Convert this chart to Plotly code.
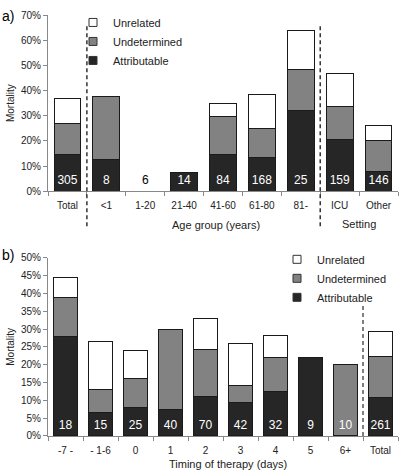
import plotly.graph_objects as go
from plotly.subplots import make_subplots

# ---- Data (a) ----
cats_a = ["Total", "<1", "1-20", "21-40", "41-60", "61-80", "81-", "ICU", "Other"]
n_a = ["305", "8", "6", "14", "84", "168", "25", "159", "146"]
attrib_a = [14.6, 12.5, 0, 7.5, 14.6, 13.2, 32.2, 20.4, 7.7]
undet_a = [12.5, 25.0, 0, 0, 15.1, 11.7, 16.0, 13.2, 12.3]
unrel_a = [9.7, 0, 0, 0, 5.2, 13.5, 15.8, 13.2, 6.2]

# ---- Data (b) ----
cats_b = ["-7 -", "- 1-6", "0", "1", "2", "3", "4", "5", "6+", "Total"]
n_b = ["18", "15", "25", "40", "70", "42", "32", "9", "10", "261"]
attrib_b = [27.8, 6.7, 8.0, 7.5, 11.1, 9.3, 12.5, 22.0, 0, 10.9]
undet_b = [11.1, 6.4, 8.0, 22.5, 13.2, 4.8, 9.4, 0, 20.0, 11.5]
unrel_b = [5.5, 13.4, 8.0, 0, 8.6, 11.9, 6.3, 0, 0, 6.9]

series_names = ["Attributable", "Undetermined", "Unrelated"]

DARK = "#262626"
GRAY = "#828282"
EDGE = "#1a1a1a"
FONT = "Liberation Sans, Arial, sans-serif"
W, H = 400, 476

def py(px):
    return (H - px) / H

fig = make_subplots(rows=2, cols=1)
colors = {"Attributable": DARK, "Undetermined": GRAY, "Unrelated": "white"}

def add_stack(xs, att, und, unr, row, legend):
    for name, vals in zip(series_names, [att, und, unr]):
        fig.add_trace(go.Bar(x=xs, y=vals, name=name, showlegend=False,
                             marker=dict(color=colors[name], line=dict(color=EDGE, width=1)),
                             width=0.69, hoverinfo="skip"), row=row, col=1)
    # legend entries with small square symbols
    for name in series_names:
        fig.add_trace(go.Scatter(x=[None], y=[None], mode="markers", name=name, legend=legend,
                                 marker=dict(symbol="square", size=8, color=colors[name],
                                             line=dict(color="#333", width=1))), row=row, col=1)

xa = list(range(len(cats_a)))
xb = list(range(len(cats_b)))
add_stack(xa, attrib_a, undet_a, unrel_a, 1, "legend")
add_stack(xb, attrib_b, undet_b, unrel_b, 2, "legend2")

# count labels
col_a = ["black" if (a + u + r) == 0 else "white" for a, u, r in zip(attrib_a, undet_a, unrel_a)]
fig.add_trace(go.Scatter(x=xa, y=[3.9] * len(xa), text=n_a, mode="text", showlegend=False,
                         textfont=dict(color=col_a, size=12, family=FONT), hoverinfo="skip"), row=1, col=1)
fig.add_trace(go.Scatter(x=xb, y=[2.7] * len(xb), text=n_b, mode="text", showlegend=False,
                         textfont=dict(color="white", size=12, family=FONT), hoverinfo="skip"), row=2, col=1)

fig.update_layout(
    barmode="stack", width=W, height=H, margin=dict(l=0, r=0, t=0, b=0),
    plot_bgcolor="white", paper_bgcolor="white",
    font=dict(family=FONT, size=10, color="#222"),
    legend=dict(x=73 / W, y=py(2), xanchor="left", yanchor="top", traceorder="reversed",
                font=dict(size=11, color="#222"), itemwidth=30, bgcolor="rgba(0,0,0,0)", tracegroupgap=0),
    legend2=dict(x=277 / W, y=py(245), xanchor="left", yanchor="top", traceorder="reversed",
                 font=dict(size=11, color="#222"), itemwidth=30, bgcolor="rgba(0,0,0,0)", tracegroupgap=0),
    bargap=0.31,
)

axis_common = dict(showline=True, linecolor="#888", linewidth=1, showgrid=False, zeroline=False,
                   ticks="", tickfont=dict(size=10, color="#222"), ticklabelstandoff=5)
fig.update_xaxes(domain=[48 / W, 398 / W], **axis_common)
fig.update_xaxes(row=1, col=1, range=[-0.5, 8.5], tickvals=xa, ticktext=cats_a,
                 minor=dict(tickvals=[i + 0.5 for i in range(-1, 9)], ticks="outside", ticklen=4, tickcolor="#888"))
fig.update_xaxes(row=2, col=1, range=[-0.5, 9.5], tickvals=xb, ticktext=cats_b,
                 minor=dict(tickvals=[i + 0.5 for i in range(-1, 10)], ticks="outside", ticklen=4, tickcolor="#888"))
fig.update_yaxes(row=1, col=1, domain=[py(190), py(9.3)], range=[0, 70], dtick=10, ticksuffix="%",
                 ticks="outside", ticklen=4, tickcolor="#888", showline=True, linecolor="#888",
                 showgrid=False, zeroline=False, tickfont=dict(size=10, color="#222"),
                 title=dict(text="Mortality", font=dict(size=10, color="#222"), standoff=4))
fig.update_yaxes(row=2, col=1, domain=[py(441), py(258.3)], range=[0, 50], dtick=5, ticksuffix="%",
                 ticks="outside", ticklen=4, tickcolor="#888", showline=True, linecolor="#888",
                 showgrid=False, zeroline=False, tickfont=dict(size=10, color="#222"),
                 title=dict(text="Mortality", font=dict(size=10, color="#222"), standoff=4))

# dashed separators
for xv in [0.5, 6.5]:
    fig.add_shape(type="line", xref="x", yref="paper", x0=xv, x1=xv, y0=py(226), y1=py(20),
                  line=dict(color="#333", width=1.5, dash="4px,3px"))
fig.add_shape(type="line", xref="x2", yref="y2", x0=8.5, x1=8.5, y0=0, y1=37,
              line=dict(color="#555", width=1.5, dash="4px,3px"))

ann = [
    dict(text="a)", x=0, y=py(10), xref="paper", yref="paper", xanchor="left", yanchor="middle", font=dict(size=14, color="black")),
    dict(text="b)", x=0, y=py(255), xref="paper", yref="paper", xanchor="left", yanchor="middle", font=dict(size=14, color="black")),
    dict(text="Age group (years)", x=216 / W, y=py(225), xref="paper", yref="paper", xanchor="center", yanchor="middle", font=dict(size=11, color="#222")),
    dict(text="Setting", x=7.5, y=py(224), xref="x", yref="paper", xanchor="center", yanchor="middle", font=dict(size=11, color="#222")),
    dict(text="Timing of therapy (days)", x=228 / W, y=py(470), xref="paper", yref="paper", xanchor="center", yanchor="middle", font=dict(size=11, color="#222")),
]
for a in ann:
    a["showarrow"] = False
    fig.add_annotation(**a)

fig.write_html("out.html", config={"displayModeBar": False},
               post_script="document.body.style.margin='0';document.body.style.overflow='hidden';")
